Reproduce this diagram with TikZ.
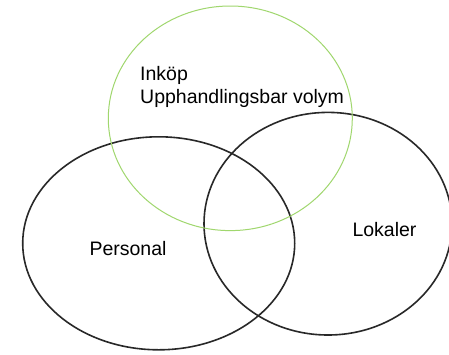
\documentclass[tikz,border=0pt]{standalone}
\usepackage{fontspec}
\setmainfont{Liberation Sans}
\definecolor{venngreen}{RGB}{160,215,110}
\definecolor{venndark}{RGB}{40,40,40}
\begin{document}
\begin{tikzpicture}[x=1pt,y=-1pt,
  blackset/.style={draw=venndark,line width=1.6pt},
  greenset/.style={draw=venngreen,line width=1pt},
  label/.style={inner sep=0pt,anchor=base west,text=black,font=\fontsize{19.5}{23.3}\selectfont}]
\useasboundingbox[fill=white] (0,0) rectangle (449,354);
\draw[blackset] (158.7,243.3) ellipse [x radius=136, y radius=106.5];
\draw[blackset] (328,223.7) ellipse [x radius=124, y radius=111.3];
\draw[greenset] (230.3,118.3) ellipse [x radius=122, y radius=112.3];
\node[label] (inkop) at (140,80) {Inköp};
\node[label] (volym) at (140,103.3) {Upphandlingsbar volym};
\node[label] (personal) at (89.3,255) {Personal};
\node[label] (lokaler) at (352.3,236) {Lokaler};
\end{tikzpicture}
\end{document}
